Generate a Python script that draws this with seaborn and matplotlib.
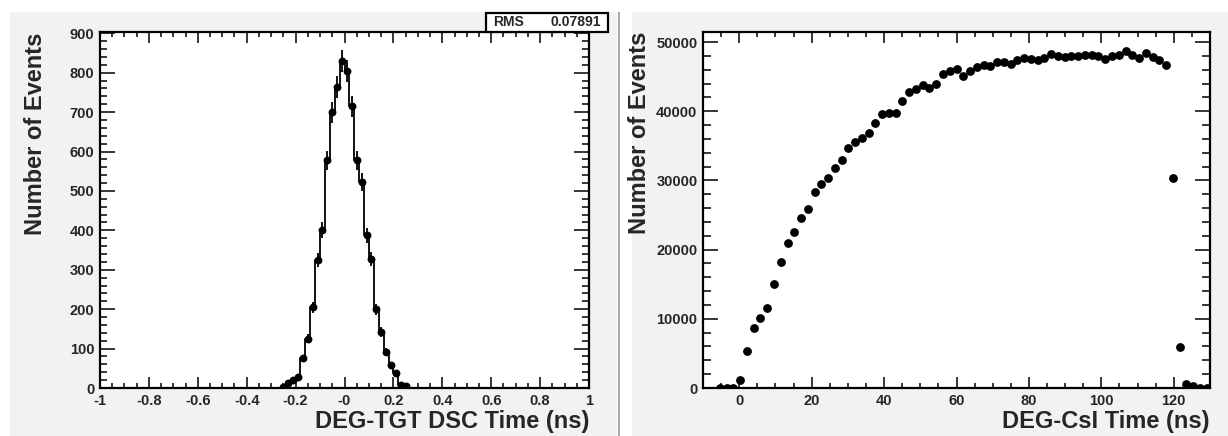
import numpy as np
import pandas as pd
import matplotlib.pyplot as plt
import seaborn as sns
from matplotlib.patches import Rectangle
from matplotlib.ticker import MultipleLocator

# left histogram: DEG-TGT DSC time, 100 bins in [-1, 1], only non-empty bins listed
dsc_centers = [-0.25, -0.23, -0.21, -0.19, -0.17, -0.15, -0.13, -0.11, -0.09, -0.07,
               -0.05, -0.03, -0.01, 0.01, 0.03, 0.05, 0.07, 0.09, 0.11, 0.13,
               0.15, 0.17, 0.19, 0.21, 0.23, 0.25]
dsc_counts = [2, 12, 20, 28, 75, 125, 205, 325, 400, 578,
              700, 763, 830, 805, 715, 578, 523, 387, 328, 200,
              142, 92, 58, 38, 8, 5]
dsc_bins, dsc_range = 100, (-1, 1)
dsc_ticklabels = ["-1", "-0.8", "-0.6", "-0.4", "-0.2", "-0", "0.2", "0.4", "0.6", "0.8", "1"]
rms_value = "0.07891"

# right histogram: DEG-CsI time, 75 bins in [-10, 130], drawn from bin 3 on
csi_bins, csi_range = 75, (-10, 130)
csi_counts = [0, 0, 0, 1200, 5300, 8650, 10100, 11550, 15050, 18270,
              20960, 22600, 24620, 25870, 28370, 29420, 30390, 31730, 32940, 34710,
              35580, 36060, 36880, 38230, 39670, 39810, 39760, 41440, 42740, 43270,
              43800, 43370, 44000, 45390, 45820, 46060, 45100, 45870, 46450, 46690,
              46540, 47170, 47070, 46830, 47410, 47650, 47550, 47410, 47750, 48230,
              47980, 47840, 47980, 48030, 48130, 48080, 47980, 47550, 47980, 48130,
              48760, 48130, 47750, 48470, 47800, 47460, 46640, 30390, 5910, 625,
              240, 60, 20]

W, H = 1228, 436
bold = dict(fontweight="bold")

sns.set_style("ticks")
plt.rcParams["font.family"] = ["Liberation Sans", "DejaVu Sans"]

fig = plt.figure(figsize=(W / 100, H / 100), dpi=100)
fig.patch.set_facecolor("white")

# grey canvas pads like the ROOT canvas (kept behind the axes)
for x0, x1, col, top in [(10, 617, "#f2f2f2", 12.5), (632, W, "#f2f2f2", 12.5), (618, 620, "#a8a8a8", 12)]:
    fig.patches.append(Rectangle((x0 / W, 0), (x1 - x0) / W, (H - top) / H,
                                 transform=fig.transFigure, facecolor=col,
                                 edgecolor="none", zorder=-10))


def axes_px(x0, x1, y0, y1):
    return fig.add_axes([x0 / W, 1 - y1 / H, (x1 - x0) / W, (y1 - y0) / H])


def root_style(ax, label_x_px, ax_left, ax_right, ax_top, ax_bot, xlabel):
    ax.set_facecolor("white")
    for s in ax.spines.values():
        s.set_linewidth(1.6)
        s.set_color("black")
    # ROOT tick length = 3% of the other axis length, minor = half
    ylen = 0.03 * (ax_right - ax_left) * 0.72
    xlen = 0.03 * (ax_bot - ax_top) * 0.72
    ax.tick_params(which="both", direction="in", top=True, right=True, width=1.3)
    ax.tick_params(which="major", labelsize=10.5, pad=4)
    ax.tick_params(axis="x", which="major", length=xlen)
    ax.tick_params(axis="x", which="minor", length=xlen / 2)
    ax.tick_params(axis="y", which="major", length=ylen)
    ax.tick_params(axis="y", which="minor", length=ylen / 2)
    for t in ax.get_xticklabels() + ax.get_yticklabels():
        t.set_fontweight("bold")
    ax.set_ylabel("Number of Events", fontsize=17, loc="top", **bold)
    ax.yaxis.set_label_coords((label_x_px - ax_left) / (ax_right - ax_left), 1.0)
    ax.yaxis.label.set_va("center")
    ax.set_xlabel(xlabel, fontsize=17, loc="right", **bold)
    ax.xaxis.set_label_coords(1.0, -(421.5 - ax_bot) / (ax_bot - ax_top))
    ax.xaxis.label.set_va("center")
    # thin red frame lines seen at the bottom and right edges
    ax.axhline(0, color="#c03030", lw=0.7, zorder=5)
    ax.axvline(ax.get_xlim()[1], color="#c03030", lw=0.7, zorder=5)


# ---------- left panel ----------
ax1 = axes_px(100, 589, 32.5, 388)
df1 = pd.DataFrame({"t": dsc_centers, "n": dsc_counts})
sns.histplot(data=df1, x="t", weights="n", bins=dsc_bins, binrange=dsc_range,
             element="step", fill=False, color="black", linewidth=1.3, ax=ax1)
ax1.errorbar(df1["t"], df1["n"], yerr=np.sqrt(df1["n"]), fmt="none",
             ecolor="black", elinewidth=1.3, zorder=4)
sns.scatterplot(data=df1, x="t", y="n", color="black", s=32, edgecolor="black",
                linewidth=0, ax=ax1, zorder=5)
ax1.set_xlim(*dsc_range)
ax1.set_ylim(0, 902)
ax1.xaxis.set_major_locator(MultipleLocator(0.2))
ax1.xaxis.set_minor_locator(MultipleLocator(0.05))
ax1.yaxis.set_major_locator(MultipleLocator(100))
ax1.yaxis.set_minor_locator(MultipleLocator(20))
ax1.set_xticks(np.linspace(-1, 1, len(dsc_ticklabels)))
ax1.set_xticklabels(dsc_ticklabels)
root_style(ax1, 36, 100, 589, 32.5, 388, "DEG-TGT DSC Time (ns)")

# RMS stats box
fig.patches.append(Rectangle((486 / W, 1 - 32 / H), (608 - 486) / W, (32 - 13) / H,
                             transform=fig.transFigure, facecolor="white",
                             edgecolor="black", linewidth=1.6, zorder=3))
fig.text(493 / W, 1 - 22.5 / H, "RMS", fontsize=10, ha="left", va="center", zorder=4, **bold)
fig.text(601 / W, 1 - 22.5 / H, rms_value, fontsize=10, ha="right", va="center", zorder=4, **bold)

# ---------- right panel ----------
ax2 = axes_px(703, 1210, 32, 388)
edges = np.linspace(csi_range[0], csi_range[1], csi_bins + 1)
centers = 0.5 * (edges[:-1] + edges[1:])
df2 = pd.DataFrame({"t": centers[2:2 + len(csi_counts)], "n": csi_counts})
sns.scatterplot(data=df2, x="t", y="n", color="black", s=40, edgecolor="black",
                linewidth=0, ax=ax2, zorder=5)
ax2.set_xlim(*csi_range)
ax2.set_ylim(0, 51450)
ax2.xaxis.set_major_locator(MultipleLocator(20))
ax2.xaxis.set_minor_locator(MultipleLocator(5))
ax2.yaxis.set_major_locator(MultipleLocator(10000))
ax2.yaxis.set_minor_locator(MultipleLocator(2000))
ax2.set_xticks([0, 20, 40, 60, 80, 100, 120])
root_style(ax2, 639.5, 703, 1210, 32, 388, "DEG-CsI Time (ns)")

fig.savefig("out.png", dpi=100)
